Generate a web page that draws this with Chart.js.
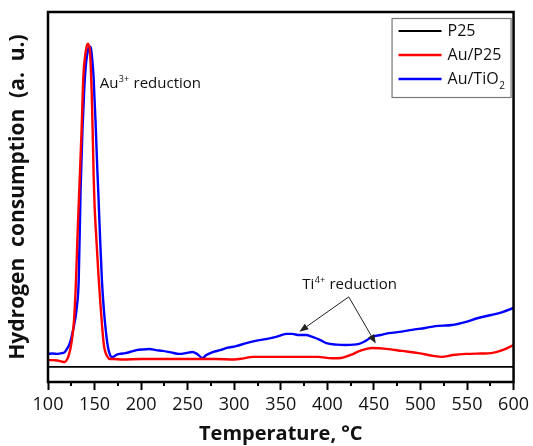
<!DOCTYPE html>
<html>
<head>
<meta charset="utf-8">
<script src="https://cdn.jsdelivr.net/npm/chart.js@4/dist/chart.umd.min.js"></script>
<style>
  html, body { margin: 0; padding: 0; background: #fff; }
  #wrap { width: 533px; height: 446px; }
</style>
</head>
<body>
<div id="wrap"><canvas id="c" width="533" height="446"></canvas></div>
<script>
// TPR profiles: temperature (°C) vs hydrogen consumption (arbitrary units)
const seriesNames = ['P25', 'Au/P25', 'Au/TiO2'];
const seriesColors = ['#000000', '#ff0000', '#0000ff'];

const p25T = [100, 600];
const p25H = [4.1, 4.1];

const auP25T = [100, 105, 110, 115, 118, 120, 122, 124, 126, 128, 130, 132, 134, 136, 138, 140, 141, 142, 143, 144, 145, 146, 147, 148, 149, 150, 152, 154, 156, 158, 160, 162, 164, 166, 170, 180, 200, 220, 240, 260, 280, 300, 310, 320, 335, 350, 370, 390, 405, 415, 425, 435, 448, 466, 480, 498, 515, 523, 535, 549, 565, 576, 588, 600];
const auP25H = [5.9, 5.9, 5.8, 5.5, 5.4, 5.9, 7.0, 8.9, 11.9, 16.8, 27.0, 41.6, 54.6, 67.6, 82.7, 88.4, 90.0, 91.1, 91.4, 90.9, 89.7, 84.9, 77.6, 67.6, 55.9, 47.8, 38.4, 29.7, 22.2, 15.4, 10.0, 7.8, 6.8, 6.2, 6.2, 6.1, 6.2, 6.2, 6.2, 6.2, 6.2, 6.1, 6.4, 6.8, 6.8, 6.8, 6.8, 6.8, 6.4, 6.5, 7.3, 8.4, 9.2, 8.9, 8.4, 7.8, 7.0, 6.8, 7.3, 7.6, 7.7, 7.8, 8.6, 10.0];

const auTiO2T = [100, 105, 110, 115, 118, 121, 123.5, 127, 131, 133, 135, 137, 139, 141, 143, 144, 145, 146, 147, 148, 149, 150, 151, 152, 153, 154, 156, 158, 160, 162, 164, 166, 168, 170, 173, 177, 183, 188, 192, 195, 202, 209, 216, 223, 232, 241, 248, 255, 260, 266, 270, 277, 285, 292, 302, 313, 323, 334, 345, 356, 362, 370, 377, 384, 392, 399, 410, 420, 434, 441, 448, 457, 466, 480, 491, 505, 516, 534, 548, 562, 576, 588, 600];
const auTiO2H = [7.6, 7.7, 7.6, 7.8, 8.1, 9.2, 10.5, 14.1, 20.3, 27.6, 51.9, 68.1, 79.5, 86.5, 89.7, 90.4, 90.6, 90.3, 88.4, 85.7, 82.2, 76.2, 70.8, 64.0, 57.3, 51.4, 38.4, 27.0, 19.5, 14.1, 10.0, 7.8, 6.8, 6.8, 7.3, 7.6, 7.8, 8.1, 8.4, 8.6, 8.8, 8.9, 8.6, 8.4, 8.0, 7.6, 7.8, 8.1, 7.6, 6.5, 7.3, 8.1, 8.6, 9.2, 9.7, 10.5, 11.1, 11.6, 12.2, 13.0, 13.0, 12.7, 12.7, 12.2, 11.4, 10.5, 10.1, 10.0, 10.3, 11.1, 12.2, 12.7, 13.2, 13.6, 14.1, 14.6, 15.1, 15.4, 16.2, 17.3, 18.1, 18.9, 20.0];

const xTicks = [100, 150, 200, 250, 300, 350, 400, 450, 500, 550, 600];
const xMinorTicks = [125, 175, 225, 275, 325, 375, 425, 475, 525, 575];

// annotation anchors in data units (temperature, signal)
const au3Label = { T: 155.5, H: 79.5 };
const ti4Label = { T: 373, H: 25.1 };
const ti4Tail = { T: 423, H: 23.0 };
const ti4Heads = [{ T: 370, H: 13.6 }, { T: 452, H: 10.4 }];

const FONT = "'Open Sans', 'DejaVu Sans', sans-serif";

function pts(xs, ys) { return xs.map((x, i) => ({ x: x, y: ys[i] })); }

// frame, minor ticks, legend and annotations
const decor = {
  id: 'decor',
  afterDatasetsDraw(chart) {
    const ctx = chart.ctx;
    const a = chart.chartArea;
    const xs = chart.scales.x, ys = chart.scales.y;
    ctx.save();
    // box around the plot
    ctx.strokeStyle = '#000';
    ctx.lineWidth = 2.5;
    ctx.strokeRect(a.left, a.top, a.right - a.left, a.bottom - a.top);
    // minor ticks on the temperature axis
    ctx.lineWidth = 2;
    ctx.beginPath();
    xMinorTicks.forEach(t => {
      const px = Math.round(xs.getPixelForValue(t));
      ctx.moveTo(px, a.bottom);
      ctx.lineTo(px, a.bottom + 4);
    });
    ctx.stroke();

    // legend
    const lx = a.right - 122, ly = a.top + 6, lw = 119, lh = 79;
    ctx.fillStyle = '#fff';
    ctx.fillRect(lx, ly, lw, lh);
    ctx.strokeStyle = '#777';
    ctx.lineWidth = 1.2;
    ctx.strokeRect(lx + 0.5, ly + 0.5, lw, lh);
    ctx.textBaseline = 'middle';
    seriesNames.forEach((name, i) => {
      const yy = ly + 13 + i * 24;
      ctx.strokeStyle = seriesColors[i];
      ctx.lineWidth = i === 0 ? 2 : 2.5;
      ctx.beginPath();
      ctx.moveTo(lx + 7, yy);
      ctx.lineTo(lx + 50, yy);
      ctx.stroke();
      ctx.fillStyle = '#111';
      const tx = lx + 56;
      if (name.endsWith('2')) {
        const base = name.slice(0, -1);
        ctx.font = '16px ' + FONT;
        ctx.fillText(base, tx, yy);
        const w = ctx.measureText(base).width;
        ctx.font = '10px ' + FONT;
        ctx.fillText('2', tx + w + 0.5, yy + 7);
      } else {
        ctx.font = '16px ' + FONT;
        ctx.fillText(name, tx, yy);
      }
    });

    // annotation text with superscript charge
    function ionLabel(el, sup, anchor) {
      const x0 = xs.getPixelForValue(anchor.T);
      const y0 = ys.getPixelForValue(anchor.H);
      ctx.fillStyle = '#111';
      ctx.textBaseline = 'alphabetic';
      ctx.font = '15px ' + FONT;
      ctx.fillText(el, x0, y0);
      let w = ctx.measureText(el).width;
      ctx.font = '9px ' + FONT;
      ctx.fillText(sup, x0 + w + 0.5, y0 - 6);
      w += ctx.measureText(sup).width + 1;
      ctx.font = '15px ' + FONT;
      ctx.fillText(' reduction', x0 + w, y0);
    }
    ionLabel('Au', '3+', au3Label);
    ionLabel('Ti', '4+', ti4Label);

    // arrows from the Ti4+ label to both curves
    const tx = xs.getPixelForValue(ti4Tail.T), ty = ys.getPixelForValue(ti4Tail.H);
    ctx.strokeStyle = '#222';
    ctx.fillStyle = '#222';
    ctx.lineWidth = 1;
    ti4Heads.forEach(h => {
      const hx = xs.getPixelForValue(h.T), hy = ys.getPixelForValue(h.H);
      const ang = Math.atan2(hy - ty, hx - tx);
      const L = 9, W = 3.5;
      const bx = hx - L * Math.cos(ang), by = hy - L * Math.sin(ang);
      ctx.beginPath();
      ctx.moveTo(tx, ty);
      ctx.lineTo(bx, by);
      ctx.stroke();
      ctx.beginPath();
      ctx.moveTo(hx, hy);
      ctx.lineTo(bx + W * Math.sin(ang), by - W * Math.cos(ang));
      ctx.lineTo(bx - W * Math.sin(ang), by + W * Math.cos(ang));
      ctx.closePath();
      ctx.fill();
    });
    ctx.restore();
  }
};

new Chart(document.getElementById('c'), {
  type: 'line',
  data: {
    datasets: [
      { label: seriesNames[0], data: pts(p25T, p25H), borderColor: seriesColors[0], borderWidth: 1.6 },
      { label: seriesNames[1], data: pts(auP25T, auP25H), borderColor: seriesColors[1], borderWidth: 2.4, cubicInterpolationMode: 'monotone' },
      { label: seriesNames[2], data: pts(auTiO2T, auTiO2H), borderColor: seriesColors[2], borderWidth: 2.4, cubicInterpolationMode: 'monotone' }
    ]
  },
  options: {
    responsive: false,
    animation: false,
    elements: { point: { radius: 0 } },
    layout: { padding: { top: 12, right: 18, left: 0, bottom: 0 } },
    plugins: { legend: { display: false }, tooltip: { enabled: false } },
    scales: {
      x: {
        type: 'linear',
        min: 100, max: 600,
        afterFit(s) { s.height = 64; },
        afterBuildTicks(s) { s.ticks = xTicks.map(v => ({ value: v })); },
        grid: { drawOnChartArea: false, drawTicks: true, tickLength: 8, tickWidth: 2, tickColor: '#000' },
        border: { display: true, color: '#000', width: 2 },
        ticks: { color: '#111', font: { family: FONT, size: 18 }, padding: 4, maxRotation: 0, autoSkip: false },
        title: { display: true, text: 'Temperature, °C', color: '#111', font: { family: FONT, size: 20, weight: 'bold' }, padding: { top: 0, bottom: 0 } }
      },
      y: {
        min: 0, max: 100,
        afterFit(s) { s.width = 48; },
        grid: { display: false, drawTicks: false },
        border: { display: true, color: '#000', width: 2 },
        ticks: { display: false },
        title: { display: true, text: 'Hydrogen  consumption  (a.  u.)', color: '#111', font: { family: FONT, size: 21, weight: 'bold' }, padding: { top: 5, bottom: 0 } }
      }
    }
  },
  plugins: [decor]
});
</script>
</body>
</html>
